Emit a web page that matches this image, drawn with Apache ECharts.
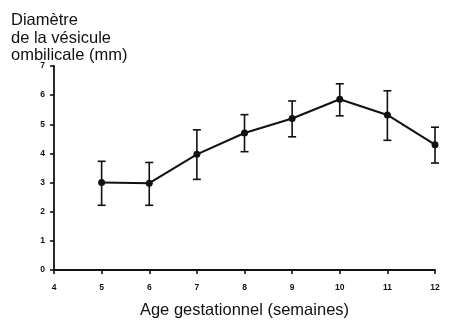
<!DOCTYPE html>
<html>
<head>
<meta charset="utf-8">
<script src="https://cdn.jsdelivr.net/npm/echarts@6/dist/echarts.min.js"></script>
<style>html,body{margin:0;padding:0;background:#fff}#c{width:459px;height:324px}</style>
</head>
<body>
<div id="c"></div>
<script>
const weeks = [5, 6, 7, 8, 9, 10, 11, 12];
const meanDiameter = [3.0, 2.98, 3.97, 4.70, 5.20, 5.86, 5.32, 4.30];
const upperBar = [3.73, 3.69, 4.81, 5.33, 5.80, 6.39, 6.15, 4.90];
const lowerBar = [2.22, 2.22, 3.11, 4.06, 4.57, 5.29, 4.45, 3.67];
const xTicks = [4, 5, 6, 7, 8, 9, 10, 11, 12];
const yTicks = [0, 1, 2, 3, 4, 5, 6, 7];
const yTitle = "Diamètre\nde la vésicule\nombilicale (mm)";
const xTitle = "Age gestationnel (semaines)";

const font = "'Liberation Sans', Arial, Helvetica, sans-serif";
const ink = '#111';

const chart = echarts.init(document.getElementById('c'), null, {renderer: 'canvas'});
chart.setOption({
  animation: false,
  backgroundColor: '#fff',
  title: {
    text: yTitle,
    left: 11, top: 12, padding: 0,
    textStyle: {fontFamily: font, fontSize: 16.5, fontWeight: 'normal', color: ink, lineHeight: 17.5}
  },
  grid: {left: 54, right: 24, top: 66, bottom: 53},
  xAxis: {
    type: 'value', min: xTicks[0], max: xTicks[xTicks.length - 1], interval: 1,
    name: xTitle, nameLocation: 'middle', nameGap: 32,
    nameTextStyle: {fontFamily: font, fontSize: 16.5, color: ink},
    axisLine: {show: true, onZero: false, lineStyle: {color: ink, width: 1.8}},
    axisTick: {show: true, inside: false, length: 4, lineStyle: {color: ink, width: 1.6}},
    axisLabel: {fontFamily: font, fontSize: 8.5, fontWeight: 'bold', color: ink, margin: 13},
    splitLine: {show: false}
  },
  yAxis: {
    type: 'value', min: yTicks[0], max: yTicks[yTicks.length - 1], interval: 1,
    axisLine: {show: true, lineStyle: {color: ink, width: 1.8}},
    axisTick: {show: true, inside: false, length: 4, lineStyle: {color: ink, width: 1.6}},
    axisLabel: {fontFamily: font, fontSize: 8.5, fontWeight: 'bold', color: ink, margin: 9},
    splitLine: {show: false}
  },
  series: [
    {
      type: 'custom',
      data: weeks.map((w, i) => [w, lowerBar[i], upperBar[i]]),
      renderItem: function (params, api) {
        const x = api.value(0);
        const lo = api.coord([x, api.value(1)]);
        const hi = api.coord([x, api.value(2)]);
        const hw = 4;
        const style = {stroke: ink, lineWidth: 1.6, fill: null};
        return {
          type: 'group',
          children: [
            {type: 'line', shape: {x1: lo[0], y1: lo[1], x2: hi[0], y2: hi[1]}, style: style},
            {type: 'line', shape: {x1: hi[0] - hw, y1: hi[1], x2: hi[0] + hw, y2: hi[1]}, style: style},
            {type: 'line', shape: {x1: lo[0] - hw, y1: lo[1], x2: lo[0] + hw, y2: lo[1]}, style: style}
          ]
        };
      },
      z: 2
    },
    {
      type: 'line',
      data: weeks.map((w, i) => [w, meanDiameter[i]]),
      symbol: 'circle', symbolSize: 7,
      itemStyle: {color: ink},
      lineStyle: {color: ink, width: 2},
      z: 3
    }
  ]
});
</script>
</body>
</html>
